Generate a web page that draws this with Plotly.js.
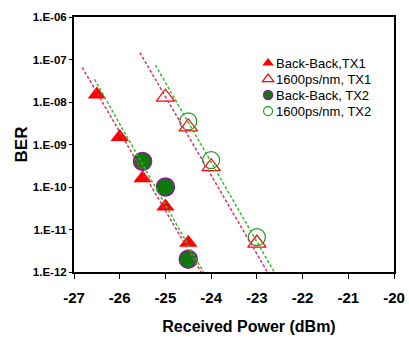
<!DOCTYPE html>
<html>
<head>
<meta charset="utf-8">
<script src="https://cdn.plot.ly/plotly-3.0.1.min.js"></script>
<style>
html,body{margin:0;padding:0;background:#fff;}
#chart{width:409px;height:338px;}
</style>
</head>
<body>
<div id="chart"></div>
<script>
// Measured data (received power in dBm, BER)
var bbTx1Power = [-26.5, -26.0, -25.5, -25.0, -24.5];
var bbTx1Ber   = [1.5e-8, 1.5e-9, 1.6e-10, 3.5e-11, 4.9e-12];

var cdTx1Power = [-25.0, -24.5, -24.0, -23.0];
var cdTx1Ber   = [1.3e-8, 2.6e-9, 3.0e-10, 4.8e-12];

var bbTx2Power = [-25.5, -25.0, -24.5];
var bbTx2Ber   = [4.0e-10, 1.0e-10, 2.0e-12];

var cdTx2Power = [-24.5, -24.0, -23.0];
var cdTx2Ber   = [3.5e-9, 4.3e-10, 6.6e-12];

// Fitted (dashed) trend lines: end points
var fitBbTx1Power = [-26.82, -24.22];
var fitBbTx1Ber   = [6.5e-8, 1.0e-12];
var fitBbTx2Power = [-26.55, -24.17];
var fitBbTx2Ber   = [3.4e-8, 1.0e-12];
var fitCdTx1Power = [-25.56, -22.77];
var fitCdTx1Ber   = [1.45e-7, 1.0e-12];
var fitCdTx2Power = [-25.22, -22.62];
var fitCdTx2Ber   = [7.4e-8, 1.0e-12];

var seriesNames = ["Back-Back,TX1", "1600ps/nm, TX1", "Back-Back, TX2", "1600ps/nm, TX2"];

var yTickVals   = [1e-12, 1e-11, 1e-10, 1e-9, 1e-8, 1e-7, 1e-6];
var yTickLabels = ["1.E-12", "1.E-11", "1.E-10", "1.E-09", "1.E-08", "1.E-07", "1.E-06"];
var xTickVals   = [-27, -26, -25, -24, -23, -22, -21, -20];
var xTickLabels = ["-27", "-26", "-25", "-24", "-23", "-22", "-21", "-20"];

var FONT = "Liberation Sans, Arial, sans-serif";
var RED = "#ff0000";
var LINE_RED = "#e0306a";
var LINE_GREEN = "#2fbf2f";
var DARK_GREEN = "#0b7a0b";
var PURPLE = "#8a1a9a";
var OPEN_GREEN = "#1f9a1f";

var markerStyles = [
  {symbol: "triangle-up", size: 16, color: RED, line: {width: 0}},
  {symbol: "triangle-up-open", size: 16, color: RED, line: {width: 1.2, color: RED}},
  {symbol: "circle", size: 18, color: DARK_GREEN, line: {width: 1.5, color: PURPLE}},
  {symbol: "circle-open", size: 17, color: OPEN_GREEN, line: {width: 1.2, color: OPEN_GREEN}}
];
var legendMarkerSizes = [10, 10, 9, 9];

var dataX = [bbTx1Power, cdTx1Power, bbTx2Power, cdTx2Power];
var dataY = [bbTx1Ber, cdTx1Ber, bbTx2Ber, cdTx2Ber];

var traces = [];
for (var i = 0; i < 4; i++) {
  traces.push({
    x: dataX[i], y: dataY[i], type: "scatter", mode: "markers",
    name: seriesNames[i], showlegend: false, cliponaxis: false,
    marker: markerStyles[i]
  });
}
function fitLine(x, y, color) {
  return {x: x, y: y, type: "scatter", mode: "lines", showlegend: false,
    hoverinfo: "skip", line: {color: color, width: 1.5, dash: "3px,2px"}};
}
traces.push(fitLine(fitBbTx1Power, fitBbTx1Ber, LINE_RED));
traces.push(fitLine(fitBbTx2Power, fitBbTx2Ber, LINE_GREEN));
traces.push(fitLine(fitCdTx1Power, fitCdTx1Ber, LINE_RED));
traces.push(fitLine(fitCdTx2Power, fitCdTx2Ber, LINE_GREEN));

// legend entries (small symbols like the original)
for (var j = 0; j < 4; j++) {
  var m = JSON.parse(JSON.stringify(markerStyles[j]));
  m.size = legendMarkerSizes[j];
  traces.push({x: [null], y: [null], type: "scatter", mode: "markers",
    name: seriesNames[j], showlegend: true, marker: m});
}

var layout = {
  width: 409, height: 338,
  margin: {l: 74, r: 15, t: 17, b: 66},
  paper_bgcolor: "#ffffff", plot_bgcolor: "#ffffff",
  font: {family: FONT, color: "#000"},
  showlegend: true,
  legend: {x: 0.544, y: 0.878, xanchor: "left", yanchor: "top",
    bgcolor: "rgba(0,0,0,0)", font: {family: FONT, size: 13, color: "#000"},
    itemwidth: 30, tracegroupgap: 0},
  xaxis: {
    range: [-27, -20], tickvals: xTickVals, ticktext: xTickLabels,
    ticks: "outside", ticklen: 5, ticklabelstandoff: 6,
    tickcolor: "#000", tickwidth: 1, showgrid: false, zeroline: false,
    showline: true, linecolor: "#000", linewidth: 2, mirror: true,
    tickfont: {family: FONT, size: 15, color: "#000", weight: "bold"},
    title: {text: "Received Power (dBm)", standoff: 16,
      font: {family: FONT, size: 16, color: "#000", weight: "bold"}}
  },
  yaxis: {
    type: "log", range: [-12, -6], tickvals: yTickVals, ticktext: yTickLabels,
    ticks: "outside", ticklen: 3, tickcolor: "#000", tickwidth: 1,
    showgrid: false, zeroline: false,
    showline: true, linecolor: "#000", linewidth: 2, mirror: true,
    tickfont: {family: FONT, size: 11.5, color: "#000", weight: "bold"},
    title: {text: "BER", standoff: 1,
      font: {family: FONT, size: 17, color: "#000", weight: "bold"}}
  }
};

Plotly.newPlot("chart", traces, layout, {staticPlot: true, displayModeBar: false}).then(function (gd) {
  // tighten legend rows and symbol-to-text gap like the original
  var items = gd.querySelectorAll(".legend .traces");
  var rowGap = 16;
  var first = null;
  items.forEach(function (g, k) {
    var t = g.getAttribute("transform") || "";
    var mm = /translate\(\s*([-\d.]+)[ ,]+([-\d.]+)\s*\)/.exec(t);
    if (!mm) return;
    var tx = parseFloat(mm[1]), ty = parseFloat(mm[2]);
    if (first === null) first = ty;
    g.setAttribute("transform", "translate(" + tx + "," + (first + rowGap * k) + ")");
    var txt = g.querySelector(".legendtext");
    if (txt) txt.setAttribute("x", 28);
  });
  // axis title sits slightly right of centre in the original
  var xt = gd.querySelector(".xtitle");
  if (xt) {
    var x0 = parseFloat(xt.getAttribute("x"));
    xt.setAttribute("x", x0 + 15);
  }
});
</script>
</body>
</html>
